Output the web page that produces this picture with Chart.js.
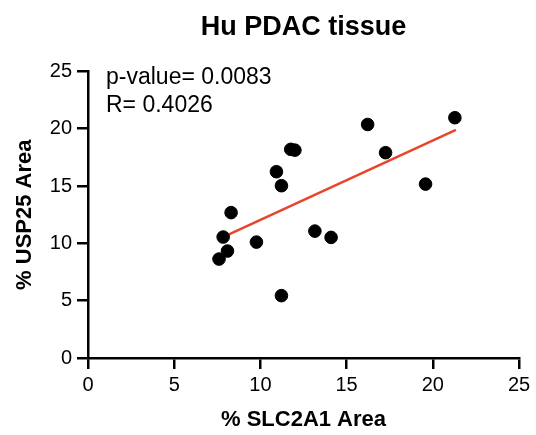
<!DOCTYPE html>
<html>
<head>
<meta charset="utf-8">
<script src="https://cdn.jsdelivr.net/npm/chart.js@4"></script>
<style>
  html, body { margin: 0; padding: 0; background: #fff; }
  canvas { display: block; }
</style>
</head>
<body>
<canvas id="scatter" width="536" height="435"></canvas>
<script>
// SLC2A1 vs USP25 stained area (%) per sample
const slc2a1Area = [21.28, 16.22, 17.26, 19.58, 11.76, 12.00, 10.93, 11.22, 8.30, 7.84, 8.09, 7.60, 9.77, 13.16, 14.10, 11.22];
const usp25Area  = [20.96, 20.37, 17.91, 15.17, 18.20, 18.13, 16.25, 15.03, 12.68, 10.55, 9.33, 8.63, 10.11, 11.07, 10.52, 5.44];

// linear fit end points
const fitX = [8.05, 21.34];
const fitY = [10.70, 19.90];

const statLines = ['p-value= 0.0083', 'R= 0.4026'];
const axisTicks = [0, 5, 10, 15, 20, 25];

const FONT = '"Liberation Sans", Arial, Helvetica, sans-serif';

const statsText = {
  id: 'statsText',
  afterDraw(chart) {
    const { ctx, chartArea } = chart;
    ctx.save();
    ctx.fillStyle = '#000';
    ctx.font = '23px ' + FONT;
    ctx.textBaseline = 'alphabetic';
    statLines.forEach((t, i) => {
      ctx.fillText(t, chartArea.left + 18, chartArea.top + 12.5 + i * 28.5);
    });
    ctx.restore();
  }
};

function axisOpts(title, isX) {
  return {
    type: 'linear',
    min: 0,
    max: 25,
    afterBuildTicks: s => { s.ticks = axisTicks.map(v => ({ value: v })); },
    afterFit: s => { if (isX) s.height = 77; else s.width = 88; },
    border: { color: '#000', width: 2.5 },
    grid: { drawOnChartArea: false, drawTicks: true, tickLength: 11, color: '#000', lineWidth: 2.5 },
    ticks: { color: '#000', font: { family: FONT, size: 20 }, padding: isX ? 4 : 5 },
    title: {
      display: true,
      text: title,
      color: '#000',
      font: { family: FONT, size: 22, weight: 'bold' },
      padding: isX ? { top: 0, bottom: 2 } : { top: 12, bottom: 0 }
    }
  };
}

new Chart(document.getElementById('scatter'), {
  type: 'scatter',
  data: {
    datasets: [
      {
        label: 'fit',
        type: 'line',
        data: fitX.map((x, i) => ({ x, y: fitY[i] })),
        borderColor: '#e8452c',
        borderWidth: 2.5,
        pointRadius: 0,
        fill: false,
        order: 2
      },
      {
        label: 'samples',
        data: slc2a1Area.map((x, i) => ({ x, y: usp25Area[i] })),
        backgroundColor: '#000',
        borderColor: '#000',
        pointRadius: 6.3,
        pointHoverRadius: 6.3,
        order: 1
      }
    ]
  },
  options: {
    responsive: false,
    animation: false,
    layout: { padding: { left: 0, right: 17, top: 0, bottom: 0 } },
    plugins: {
      legend: { display: false },
      tooltip: { enabled: false },
      title: {
        display: true,
        fullSize: false,
        text: 'Hu PDAC tissue',
        color: '#000',
        font: { family: FONT, size: 27, weight: 'bold' },
        padding: { top: 11, bottom: 28 }
      }
    },
    scales: {
      x: axisOpts('% SLC2A1 Area', true),
      y: axisOpts('% USP25 Area', false)
    }
  },
  plugins: [statsText]
});
</script>
</body>
</html>
